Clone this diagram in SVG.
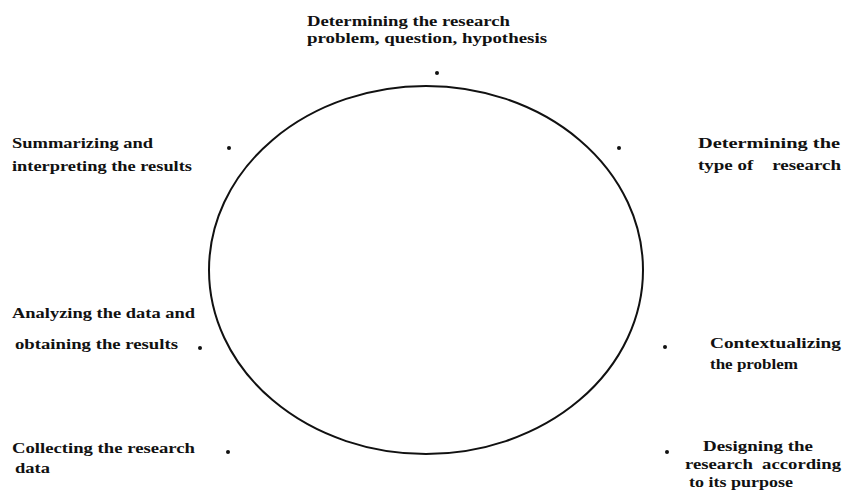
<svg xmlns="http://www.w3.org/2000/svg" width="843" height="490" viewBox="0 0 843 490">
<style>
text{font-family:"Liberation Serif","Times New Roman",serif;font-weight:bold;font-size:15.5px;fill:#111}
.dot{fill:#111}
</style>
<rect width="843" height="490" fill="#fff"/>
<g id="connectors">
<ellipse cx="426" cy="270" rx="217" ry="184" fill="none" stroke="#111" stroke-width="2"/>
</g>
<g id="n1">
<text x="307" y="26" textLength="203" lengthAdjust="spacingAndGlyphs">Determining the research</text>
<text x="307" y="43" textLength="240" lengthAdjust="spacingAndGlyphs">problem, question, hypothesis</text>
<circle class="dot" cx="437" cy="73" r="2"/>
</g>
<g id="n2">
<text x="698" y="148" textLength="142" lengthAdjust="spacingAndGlyphs">Determining the</text>
<text x="698" y="170" textLength="143" lengthAdjust="spacingAndGlyphs" xml:space="preserve">type of    research</text>
<circle class="dot" cx="619" cy="148" r="2"/>
</g>
<g id="n3">
<text x="710" y="348" textLength="131" lengthAdjust="spacingAndGlyphs">Contextualizing</text>
<text x="710" y="369" textLength="88" lengthAdjust="spacingAndGlyphs">the problem</text>
<circle class="dot" cx="665" cy="347" r="2"/>
</g>
<g id="n4">
<text x="703" y="451" textLength="110" lengthAdjust="spacingAndGlyphs">Designing the</text>
<text x="685" y="469" textLength="156" lengthAdjust="spacingAndGlyphs" xml:space="preserve">research  according</text>
<text x="689" y="487" textLength="104" lengthAdjust="spacingAndGlyphs">to its purpose</text>
<circle class="dot" cx="667" cy="452" r="2"/>
</g>
<g id="n5">
<text x="12" y="453" textLength="183" lengthAdjust="spacingAndGlyphs">Collecting the research</text>
<text x="15" y="473" textLength="35" lengthAdjust="spacingAndGlyphs">data</text>
<circle class="dot" cx="228" cy="452" r="2"/>
</g>
<g id="n6">
<text x="12" y="318" textLength="183" lengthAdjust="spacingAndGlyphs">Analyzing the data and</text>
<text x="15" y="349" textLength="163" lengthAdjust="spacingAndGlyphs">obtaining the results</text>
<circle class="dot" cx="200" cy="348" r="2"/>
</g>
<g id="n7">
<text x="12" y="148" textLength="141" lengthAdjust="spacingAndGlyphs">Summarizing and</text>
<text x="12" y="171" textLength="180" lengthAdjust="spacingAndGlyphs">interpreting the results</text>
<circle class="dot" cx="229" cy="148" r="2"/>
</g>
</svg>
